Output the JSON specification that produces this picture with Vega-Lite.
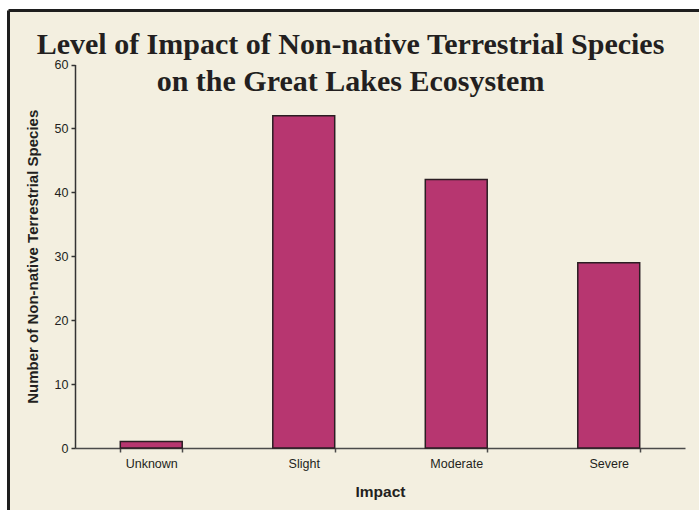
{
  "$schema": "https://vega.github.io/schema/vega-lite/v6.json",
  "width": 691,
  "height": 500,
  "autosize": {"type": "none"},
  "padding": {"left": 8, "top": 10, "right": 0, "bottom": 0},
  "background": "white",
  "config": {
    "view": {"fill": "#f3efe0", "stroke": "transparent", "strokeWidth": 0},
    "axis": {"grid": false}
  },
  "title": {
    "text": ["Level of Impact of Non-native Terrestrial Species", "on the Great Lakes Ecosystem"],
    "font": "Liberation Serif",
    "fontSize": 30,
    "fontWeight": "bold",
    "color": "#231f20",
    "anchor": "middle",
    "lineHeight": 37,
    "baseline": "alphabetic",
    "offset": -111,
    "dx": -3
  },
  "data": {
    "values": [
      {"impact": "Unknown", "count": 1},
      {"impact": "Slight", "count": 52},
      {"impact": "Moderate", "count": 42},
      {"impact": "Severe", "count": 29}
    ]
  },
  "layer": [
    {
      "mark": {"type": "bar", "fill": "#b73670", "stroke": "#2b1d23", "strokeWidth": 1.5},
      "encoding": {
        "x": {
          "field": "impact",
          "type": "nominal",
          "sort": null,
          "scale": {"range": [67, 677], "paddingInner": 0.594, "paddingOuter": 0.297},
          "axis": {
            "orient": "bottom",
            "offset": -62,
            "title": "Impact",
            "titleFont": "Liberation Sans",
            "titleFontSize": 15.5,
            "titleFontWeight": "bold",
            "titleColor": "#231f20",
            "titlePadding": 15,
            "labelAngle": 0,
            "labelFont": "Liberation Sans",
            "labelFontSize": 12.5,
            "labelColor": "#231f20",
            "labelPadding": 5,
            "tickBand": "extent",
            "tickSize": 4,
            "tickWidth": 1.5,
            "tickColor": "#4a4a4a",
            "domainColor": "#4a4a4a",
            "domainWidth": 1.5
          }
        },
        "y": {
          "field": "count",
          "type": "quantitative",
          "scale": {"domain": [0, 60], "range": [438, 54.5], "nice": false},
          "axis": {
            "orient": "left",
            "offset": -67,
            "values": [0, 10, 20, 30, 40, 50, 60],
            "title": "Number of Non-native Terrestrial Species",
            "titleFont": "Liberation Sans",
            "titleFontSize": 15,
            "titleFontWeight": "bold",
            "titleColor": "#231f20",
            "titlePadding": 14,
            "labelFont": "Liberation Sans",
            "labelFontSize": 12.5,
            "labelColor": "#231f20",
            "labelPadding": 3,
            "tickSize": 4,
            "tickWidth": 1.5,
            "tickColor": "#333333",
            "domainColor": "#333333",
            "domainWidth": 1.5
          }
        }
      }
    },
    {
      "mark": {"type": "point", "opacity": 0},
      "encoding": {
        "x": {
          "field": "impact",
          "type": "nominal",
          "sort": null,
          "scale": {"range": [0, 691]},
          "axis": {"orient": "top", "offset": 0, "title": null, "labels": false, "ticks": false, "domainColor": "#1e1e1e", "domainWidth": 3}
        },
        "y": {
          "field": "count",
          "type": "quantitative",
          "scale": {"domain": [0, 60], "range": [500, 0], "nice": false},
          "axis": {"orient": "left", "offset": 0, "title": null, "labels": false, "ticks": false, "domainColor": "#1e1e1e", "domainWidth": 3}
        }
      }
    }
  ],
  "resolve": {
    "scale": {"x": "independent", "y": "independent"},
    "axis": {"x": "independent", "y": "independent"}
  }
}
